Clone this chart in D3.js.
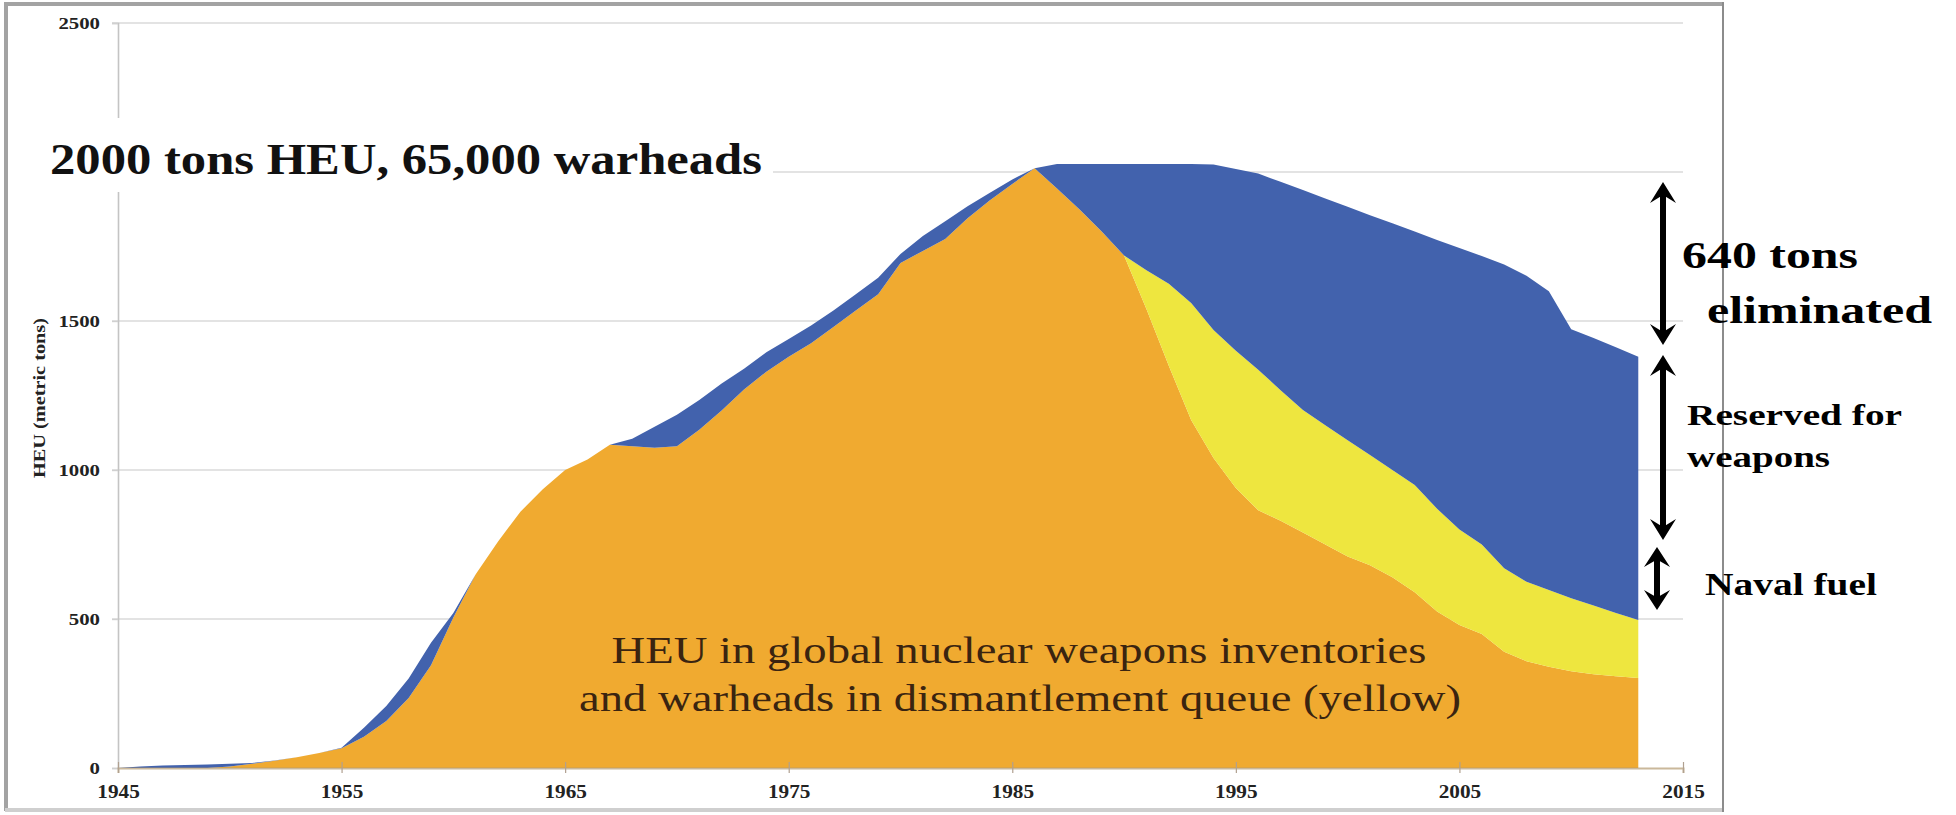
<!DOCTYPE html>
<html>
<head>
<meta charset="utf-8">
<script src="https://cdn.jsdelivr.net/npm/d3@7"></script>
<style>
  html, body { margin: 0; padding: 0; background: #fff; }
  svg { display: block; }
  text { font-family: "Liberation Serif", "Times New Roman", serif; }
</style>
</head>
<body>
<svg id="chart" width="1956" height="815"></svg>
<script>
// HEU stocks by year, metric tons
const years = [
  1945,1946,1947,1948,1949,1950,1951,1952,1953,1954,
  1955,1956,1957,1958,1959,1960,1961,1962,1963,1964,
  1965,1966,1967,1968,1969,1970,1971,1972,1973,1974,
  1975,1976,1977,1978,1979,1980,1981,1982,1983,1984,
  1985,1986,1987,1988,1989,1990,1991,1992,1993,1994,
  1995,1996,1997,1998,1999,2000,2001,2002,2003,2004,
  2005,2006,2007,2008,2009,2010,2011,2012,2013
];
// HEU in nuclear weapons inventories (orange)
const weapons = [
  0,0,0,0,0,5,14,24,36,50,
  66,105,158,235,345,505,650,760,860,935,
  1000,1035,1085,1080,1075,1080,1135,1200,1270,1330,
  1380,1425,1480,1535,1590,1695,1735,1775,1845,1905,
  1960,2013,1945,1875,1800,1720,1540,1350,1168,1040,
  940,865,830,790,750,710,680,640,590,525,
  480,450,390,358,340,325,315,308,302
];
// warheads in the dismantlement queue (yellow)
const queue = [
  0,0,0,0,0,0,0,0,0,0,
  0,0,0,0,0,0,0,0,0,0,
  0,0,0,0,0,0,0,0,0,0,
  0,0,0,0,0,0,0,0,0,0,
  0,0,0,0,0,0,130,275,392,430,
  460,471,438,411,400,390,370,360,360,345,
  320,300,280,267,257,245,230,212,195
];
// remaining HEU outside the weapons stockpile (blue)
const other = [
  0,5,8,10,12,9,3,1,0,0,
  2,30,50,65,75,15,0,0,0,0,
  0,0,0,25,70,105,100,90,70,65,
  60,60,55,55,55,30,50,60,40,25,
  15,0,82,152,227,307,357,402,467,555,
  610,659,699,739,761,783,805,828,850,902,
  945,968,1020,1027,1003,902,898,892,883
];
const seriesKeys = ["weapons", "queue", "other"];
const seriesColors = { weapons: "#f0aa30", queue: "#eee63f", other: "#4262ad" };
const xTicks = [1945, 1955, 1965, 1975, 1985, 1995, 2005, 2015];
const yTicks = [0, 500, 1000, 1500, 2000, 2500];

const svg = d3.select("#chart");

const x = d3.scaleLinear().domain([1945, 2015]).range([118, 1683]);
const y = d3.scaleLinear().domain([0, 2500]).range([768, 23]);

// widen glyphs horizontally
function widen(sel, k) {
  sel.each(function () {
    const w = this.getComputedTextLength();
    d3.select(this).attr("textLength", w * k).attr("lengthAdjust", "spacingAndGlyphs");
  });
}
function fitText(sel, width) {
  sel.attr("textLength", width).attr("lengthAdjust", "spacingAndGlyphs");
}

// outer frame
const frame = svg.append("g");
frame.append("line").attr("x1", 5).attr("x2", 1724).attr("y1", 4).attr("y2", 4)
  .attr("stroke", "#a3a3a3").attr("stroke-width", 4);
frame.append("line").attr("x1", 6).attr("x2", 6).attr("y1", 2).attr("y2", 811)
  .attr("stroke", "#a3a3a3").attr("stroke-width", 4);
frame.append("line").attr("x1", 5).attr("x2", 1724).attr("y1", 810).attr("y2", 810)
  .attr("stroke", "#cfcfcf").attr("stroke-width", 4);
frame.append("line").attr("x1", 1723).attr("x2", 1723).attr("y1", 2).attr("y2", 812)
  .attr("stroke", "#8c8c8c").attr("stroke-width", 2);

// horizontal gridlines
svg.append("g").selectAll("line").data(yTicks.filter(d => d > 0)).join("line")
  .attr("x1", 112).attr("x2", x(2015))
  .attr("y1", d => y(d)).attr("y2", d => y(d))
  .attr("stroke", "#dadada").attr("stroke-width", 1.6);

// stacked areas
const table = years.map((yr, i) => ({ year: yr, weapons: weapons[i], queue: queue[i], other: other[i] }));
const stacked = d3.stack().keys(seriesKeys)(table);
const area = d3.area()
  .x(d => x(d.data.year))
  .y0(d => y(d[0]))
  .y1(d => y(d[1]))
  .curve(d3.curveLinear);
svg.append("g").selectAll("path").data(stacked).join("path")
  .attr("d", area)
  .attr("fill", d => seriesColors[d.key]);

// y axis
const yAxis = svg.append("g").attr("transform", `translate(${x(1945)},0)`)
  .call(d3.axisLeft(y).tickValues(yTicks).tickSize(6).tickPadding(12).tickFormat(d3.format("d")));
yAxis.select(".domain").attr("stroke", "#c4c4c4").attr("stroke-width", 1.6);
yAxis.selectAll(".tick line").attr("stroke", "#d0d0d0").attr("stroke-width", 1.4);
// the 2000 label sits under the headline panel
yAxis.selectAll(".tick").filter(d => d === 2000).select("text").remove();
yAxis.selectAll("text").attr("font-size", 16).attr("font-weight", "bold").attr("fill", "#222")
  .attr("font-family", "Liberation Serif");
widen(yAxis.selectAll("text"), 1.3);

// x axis
const xAxis = svg.append("g").attr("transform", `translate(0,${y(0)})`)
  .call(d3.axisBottom(x).tickValues(xTicks).tickSize(5).tickPadding(12).tickFormat(d3.format("d")));
xAxis.select(".domain").attr("stroke", "#b49a70").attr("stroke-opacity", 0.7).attr("stroke-width", 2);
xAxis.selectAll(".tick line").attr("stroke", "#b0a090").attr("stroke-width", 1.2).attr("y1", -6);
xAxis.selectAll("text").attr("font-size", 18).attr("font-weight", "bold").attr("fill", "#222")
  .attr("font-family", "Liberation Serif");
widen(xAxis.selectAll("text"), 1.18);

// y axis title
svg.append("text")
  .attr("transform", "translate(45,398) rotate(-90)")
  .attr("text-anchor", "middle")
  .attr("font-size", 17).attr("font-weight", "bold").attr("fill", "#222")
  .text("HEU (metric tons)")
  .call(fitText, 160);

// headline on a white panel
svg.append("rect").attr("x", 38).attr("y", 118).attr("width", 735).attr("height", 74).attr("fill", "#fff");
svg.append("text").attr("x", 50).attr("y", 174)
  .attr("font-size", 44).attr("font-weight", "bold").attr("fill", "#111")
  .text("2000 tons HEU, 65,000 warheads")
  .call(fitText, 712);

// caption inside the orange area
const cap = svg.append("g").attr("fill", "#3a2410").attr("font-size", 37).attr("text-anchor", "middle");
cap.append("text").attr("x", 1019).attr("y", 663)
  .text("HEU in global nuclear weapons inventories").call(fitText, 815);
cap.append("text").attr("x", 1020).attr("y", 711)
  .text("and warheads in dismantlement queue (yellow)").call(fitText, 882);

// double-headed arrows on the right
function arrow(g, cx, top, bottom, hw, hh) {
  g.append("line").attr("x1", cx).attr("x2", cx)
    .attr("y1", top + hh * 0.6).attr("y2", bottom - hh * 0.6)
    .attr("stroke", "#000").attr("stroke-width", 6);
  const head = (tipY, dir) => {
    const p = d3.path();
    p.moveTo(cx, tipY);
    p.lineTo(cx + hw / 2, tipY + dir * hh);
    p.lineTo(cx, tipY + dir * hh * 0.62);
    p.lineTo(cx - hw / 2, tipY + dir * hh);
    p.closePath();
    g.append("path").attr("d", p.toString()).attr("fill", "#000");
  };
  head(top, 1);
  head(bottom, -1);
}
const arrows = svg.append("g");
arrow(arrows, 1663, 182, 345, 26, 21);
arrow(arrows, 1663, 355, 540, 26, 21);
arrow(arrows, 1657, 547, 610, 26, 20);

// right-hand labels
const side = svg.append("g").attr("font-weight", "bold").attr("fill", "#000");
side.append("text").attr("x", 1682).attr("y", 268).attr("font-size", 38).text("640 tons").call(fitText, 176);
side.append("text").attr("x", 1707).attr("y", 323).attr("font-size", 38).text("eliminated").call(fitText, 225);
side.append("text").attr("x", 1687).attr("y", 425).attr("font-size", 30).text("Reserved for").call(fitText, 215);
side.append("text").attr("x", 1687).attr("y", 467).attr("font-size", 30).text("weapons").call(fitText, 143);
side.append("text").attr("x", 1705).attr("y", 595).attr("font-size", 31).text("Naval fuel").call(fitText, 172);
</script>
</body>
</html>
